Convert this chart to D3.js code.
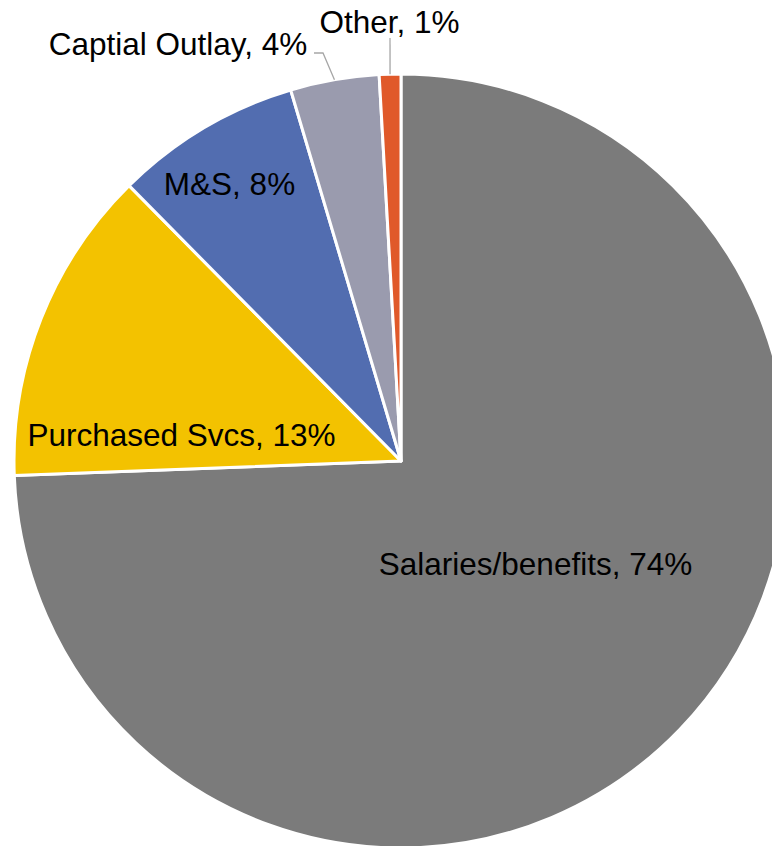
<!DOCTYPE html>
<html><head><meta charset="utf-8">
<script src="https://cdn.jsdelivr.net/npm/d3@7"></script>
<style>html,body{margin:0;padding:0;background:#fff;}svg{display:block;}</style>
</head><body>
<svg id="chart" width="772" height="846"></svg>
<script>
// Data
const categories = ["Salaries/benefits", "Purchased Svcs", "M&S", "Captial Outlay", "Other"];
const values = [74.4, 13.2, 7.8, 3.7, 0.9];
const labelPct = ["74%", "13%", "8%", "4%", "1%"];
const colors = ["#7b7b7b", "#f3c200", "#526db0", "#9a9bae", "#e0592a"];

// Layout
const W = 772, H = 846;
const cx = 401, cy = 461, R = 387;
const fontSize = 31.5;
// label anchor (center x, baseline y) relative to pie center
const labelAnchor = [[134.5, 114], [-219.5, -15], [-171.5, -266], [-223, -406], [-11.5, -428]];
// leader elbow points (relative to center), null when label inside
const leaderElbow = [null, null, null, [[-87, -408], [-78, -408]], [[-11, -423]]];

const svg = d3.select("#chart");
const g = svg.append("g").attr("transform", `translate(${cx},${cy})`);

const data = categories.map((c, i) => ({name: c, value: values[i], pct: labelPct[i], color: colors[i], i}));
const pie = d3.pie().value(d => d.value).sort(null).startAngle(0).endAngle(2 * Math.PI);
const arcs = pie(data);
const arc = d3.arc().innerRadius(0).outerRadius(R);

g.selectAll("path.slice").data(arcs).join("path")
  .attr("class", "slice")
  .attr("d", arc)
  .attr("fill", d => d.data.color)
  .attr("stroke", "#fff")
  .attr("stroke-width", 3)
  .attr("stroke-linejoin", "round");

// leader lines
const edgeArc = d3.arc().innerRadius(R).outerRadius(R);
arcs.forEach(d => {
  const el = leaderElbow[d.data.i];
  if (!el) return;
  const p = edgeArc.centroid(d);
  const pts = el.concat([p]);
  g.append("path")
    .attr("d", d3.line()(pts))
    .attr("fill", "none")
    .attr("stroke", "#a6a6a6")
    .attr("stroke-width", 1.3);
});

g.selectAll("text.lbl").data(arcs).join("text")
  .attr("class", "lbl")
  .attr("x", d => labelAnchor[d.data.i][0])
  .attr("y", d => labelAnchor[d.data.i][1])
  .attr("text-anchor", "middle")
  .attr("font-family", "Liberation Sans, Arial, sans-serif")
  .attr("font-size", fontSize)
  .attr("fill", "#000")
  .text(d => `${d.data.name}, ${d.data.pct}`);
</script>
</body></html>
